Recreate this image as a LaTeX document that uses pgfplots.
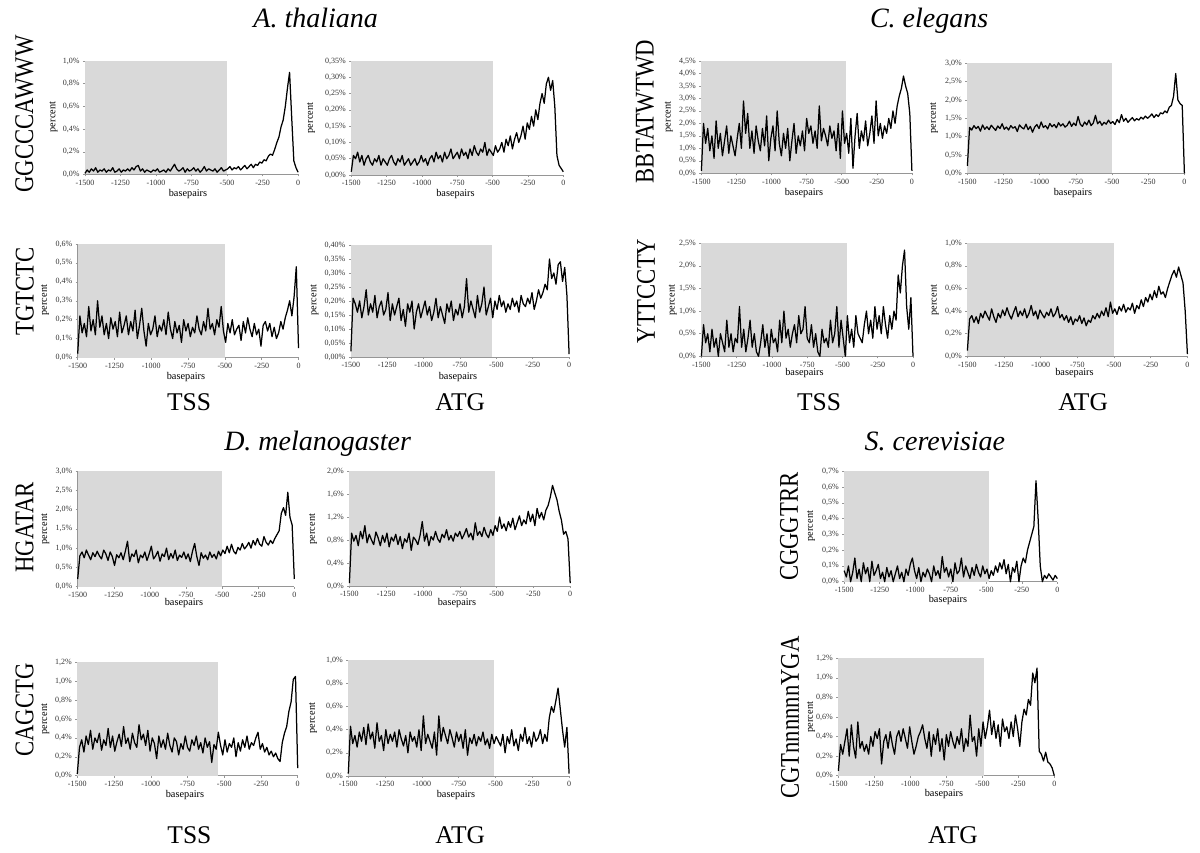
\documentclass[border=0pt]{standalone}
\usepackage{fontspec}
\setmainfont{Liberation Serif}
\usepackage{pgfplots}
\usepackage{pgfplotstable}
\pgfplotsset{compat=1.18}
\definecolor{shade}{RGB}{217,217,217}
\definecolor{axgray}{RGB}{150,150,150}

\pgfplotsset{
  panel/.style={
    scale only axis,
    anchor=south west,
    xmin=-1500, xmax=0,
    ymin=0,
    axis x line*=bottom,
    axis y line*=left,
    x axis line style={-},
    y axis line style={-},
    axis line style={axgray, line width=0.6pt},
    xtick={-1500,-1250,-1000,-750,-500,-250,0},
    xticklabels={-1500,-1250,-1000,-750,-500,-250,0},
    major tick length=2pt,
    tick style={axgray, line width=0.5pt},
    tick align=outside,
    ticklabel style={font=\fontsize{8}{9}\selectfont, text=black!80},
    clip=false,
  },
  sig/.style={black, line width=1.25pt, line join=round},
}
\newcommand\gbox[1]{\addplot[fill=shade, draw=none] coordinates {(-1500,#1) (-500,#1)} \closedcycle;}

% one table per panel, values every 15 bp from -1500 to 0
\pgfplotstableread[row sep=\\]{y\\
0.01\\0.04\\0.02\\0.05\\0.03\\0.06\\0.02\\0.04\\0.03\\0.05\\
0.02\\0.04\\0.03\\0.06\\0.02\\0.03\\0.05\\0.02\\0.04\\0.03\\
0.05\\0.03\\0.06\\0.04\\0.07\\0.08\\0.03\\0.05\\0.02\\0.04\\
0.03\\0.02\\0.04\\0.03\\0.05\\0.02\\0.03\\0.04\\0.02\\0.05\\
0.03\\0.06\\0.09\\0.05\\0.03\\0.04\\0.06\\0.02\\0.05\\0.03\\
0.04\\0.06\\0.03\\0.05\\0.02\\0.04\\0.07\\0.03\\0.05\\0.04\\
0.03\\0.05\\0.02\\0.04\\0.06\\0.03\\0.04\\0.05\\0.07\\0.04\\
0.06\\0.05\\0.07\\0.04\\0.06\\0.08\\0.05\\0.07\\0.09\\0.06\\
0.09\\0.08\\0.11\\0.10\\0.13\\0.12\\0.16\\0.18\\0.17\\0.22\\
0.28\\0.33\\0.42\\0.48\\0.60\\0.76\\0.90\\0.50\\0.12\\0.06\\0.02\\
}\dA
\pgfplotstableread[row sep=\\]{y\\
0.01\\0.06\\0.05\\0.07\\0.04\\0.06\\0.03\\0.05\\0.06\\0.04\\
0.03\\0.05\\0.04\\0.06\\0.03\\0.05\\0.04\\0.03\\0.05\\0.06\\
0.04\\0.03\\0.05\\0.04\\0.06\\0.03\\0.04\\0.05\\0.03\\0.04\\
0.05\\0.03\\0.04\\0.06\\0.04\\0.05\\0.03\\0.05\\0.06\\0.04\\
0.07\\0.05\\0.06\\0.04\\0.07\\0.05\\0.06\\0.08\\0.05\\0.06\\
0.07\\0.05\\0.08\\0.06\\0.07\\0.05\\0.08\\0.06\\0.09\\0.07\\
0.06\\0.08\\0.07\\0.10\\0.06\\0.08\\0.07\\0.06\\0.09\\0.07\\
0.08\\0.10\\0.07\\0.11\\0.09\\0.12\\0.08\\0.11\\0.13\\0.10\\
0.12\\0.15\\0.11\\0.16\\0.14\\0.18\\0.15\\0.20\\0.17\\0.22\\
0.25\\0.22\\0.28\\0.30\\0.26\\0.29\\0.21\\0.06\\0.03\\0.02\\0.01\\
}\dB
\pgfplotstableread[row sep=\\]{y\\
0.02\\0.22\\0.13\\0.18\\0.11\\0.27\\0.14\\0.20\\0.12\\0.30\\
0.16\\0.22\\0.12\\0.18\\0.10\\0.21\\0.15\\0.19\\0.11\\0.24\\
0.13\\0.17\\0.22\\0.12\\0.19\\0.14\\0.25\\0.10\\0.17\\0.26\\
0.14\\0.06\\0.18\\0.12\\0.15\\0.22\\0.11\\0.17\\0.14\\0.20\\
0.12\\0.24\\0.15\\0.10\\0.19\\0.13\\0.17\\0.08\\0.20\\0.14\\
0.18\\0.11\\0.16\\0.13\\0.22\\0.15\\0.12\\0.19\\0.14\\0.26\\
0.15\\0.18\\0.12\\0.20\\0.16\\0.27\\0.14\\0.08\\0.18\\0.13\\
0.20\\0.12\\0.15\\0.17\\0.09\\0.19\\0.13\\0.21\\0.15\\0.11\\
0.18\\0.12\\0.15\\0.06\\0.17\\0.19\\0.14\\0.18\\0.11\\0.16\\
0.10\\0.13\\0.19\\0.15\\0.21\\0.25\\0.30\\0.22\\0.32\\0.48\\0.05\\
}\dC
\pgfplotstableread[row sep=\\]{y\\
0.02\\0.21\\0.19\\0.16\\0.20\\0.14\\0.18\\0.24\\0.15\\0.19\\
0.16\\0.22\\0.14\\0.18\\0.20\\0.15\\0.17\\0.23\\0.13\\0.19\\
0.15\\0.18\\0.21\\0.13\\0.17\\0.11\\0.19\\0.16\\0.20\\0.10\\
0.16\\0.19\\0.14\\0.17\\0.20\\0.15\\0.18\\0.13\\0.16\\0.21\\
0.14\\0.18\\0.15\\0.12\\0.19\\0.16\\0.20\\0.13\\0.17\\0.15\\
0.19\\0.14\\0.18\\0.28\\0.16\\0.20\\0.17\\0.14\\0.22\\0.16\\
0.19\\0.25\\0.15\\0.18\\0.21\\0.14\\0.20\\0.17\\0.22\\0.18\\
0.20\\0.16\\0.19\\0.17\\0.21\\0.18\\0.20\\0.16\\0.22\\0.19\\
0.18\\0.21\\0.19\\0.23\\0.17\\0.20\\0.24\\0.21\\0.23\\0.26\\
0.24\\0.35\\0.28\\0.30\\0.26\\0.33\\0.34\\0.27\\0.32\\0.22\\0.01\\
}\dD
\pgfplotstableread[row sep=\\]{y\\
0.1\\2.0\\1.2\\1.8\\0.9\\1.5\\0.6\\2.1\\1.0\\1.6\\
0.7\\1.3\\1.9\\0.8\\1.5\\1.1\\0.7\\1.4\\2.0\\1.0\\
2.9\\1.6\\2.4\\1.0\\1.7\\0.8\\1.9\\1.3\\0.9\\1.8\\
1.1\\2.3\\0.5\\1.4\\1.9\\0.9\\2.5\\1.2\\0.7\\1.6\\
1.0\\1.8\\0.5\\1.3\\2.0\\0.8\\1.5\\1.1\\1.7\\0.9\\
2.2\\1.6\\1.9\\1.2\\1.7\\1.0\\2.7\\1.3\\1.8\\1.5\\
1.1\\1.9\\1.4\\1.7\\0.9\\2.0\\0.6\\2.5\\1.2\\1.6\\
0.8\\2.2\\0.2\\1.5\\2.4\\1.0\\1.7\\1.3\\2.1\\1.1\\
1.6\\2.3\\1.2\\2.9\\1.5\\2.0\\1.4\\1.9\\1.6\\2.2\\
1.8\\2.5\\2.0\\2.7\\3.1\\3.4\\3.9\\3.5\\3.2\\2.4\\0.1\\
}\dE
\pgfplotstableread[row sep=\\]{y\\
0.20\\1.25\\1.18\\1.30\\1.22\\1.28\\1.15\\1.32\\1.20\\1.27\\
1.19\\1.31\\1.24\\1.17\\1.29\\1.22\\1.35\\1.20\\1.26\\1.18\\
1.30\\1.23\\1.27\\1.14\\1.32\\1.25\\1.21\\1.34\\1.19\\1.28\\
1.12\\1.26\\1.33\\1.22\\1.40\\1.25\\1.30\\1.21\\1.36\\1.27\\
1.33\\1.24\\1.38\\1.29\\1.35\\1.26\\1.31\\1.42\\1.28\\1.37\\
1.30\\1.55\\1.34\\1.28\\1.40\\1.32\\1.45\\1.30\\1.37\\1.58\\
1.35\\1.42\\1.31\\1.39\\1.34\\1.45\\1.36\\1.41\\1.33\\1.47\\
1.38\\1.60\\1.42\\1.50\\1.39\\1.46\\1.52\\1.43\\1.49\\1.45\\
1.53\\1.48\\1.56\\1.50\\1.55\\1.62\\1.52\\1.60\\1.55\\1.65\\
1.62\\1.70\\1.65\\1.80\\1.85\\2.10\\2.72\\2.00\\1.90\\1.85\\0.00\\
}\dF
\pgfplotstableread[row sep=\\]{y\\
0.0\\0.7\\0.3\\0.5\\0.1\\0.6\\0.2\\0.4\\0.0\\0.5\\
0.3\\0.1\\0.8\\0.2\\0.5\\0.1\\0.4\\0.3\\1.1\\0.2\\
0.6\\0.1\\0.4\\0.8\\0.2\\0.5\\0.1\\0.0\\0.3\\0.7\\
0.2\\0.5\\0.0\\0.6\\0.3\\0.4\\0.1\\0.8\\0.3\\1.0\\
0.4\\0.6\\0.2\\0.5\\0.7\\0.3\\0.9\\0.5\\0.6\\1.1\\
0.4\\0.3\\0.7\\0.2\\0.5\\0.1\\0.0\\0.6\\0.3\\0.4\\
0.2\\0.8\\0.3\\0.5\\1.1\\0.2\\0.8\\0.4\\0.0\\0.9\\
0.3\\0.6\\0.2\\0.9\\0.5\\0.4\\0.3\\0.7\\1.0\\0.5\\
0.8\\0.4\\1.1\\0.6\\0.9\\0.5\\1.1\\0.7\\0.4\\0.9\\
0.6\\1.0\\0.8\\1.8\\1.4\\2.0\\2.35\\1.1\\0.6\\1.3\\0.0\\
}\dG
\pgfplotstableread[row sep=\\]{y\\
0.05\\0.33\\0.36\\0.30\\0.35\\0.29\\0.38\\0.34\\0.40\\0.36\\
0.32\\0.42\\0.35\\0.30\\0.38\\0.34\\0.41\\0.36\\0.43\\0.37\\
0.33\\0.39\\0.44\\0.35\\0.40\\0.36\\0.42\\0.34\\0.38\\0.45\\
0.36\\0.40\\0.33\\0.41\\0.37\\0.34\\0.39\\0.36\\0.42\\0.35\\
0.38\\0.44\\0.34\\0.37\\0.32\\0.36\\0.30\\0.35\\0.28\\0.33\\
0.31\\0.36\\0.29\\0.34\\0.27\\0.32\\0.30\\0.36\\0.33\\0.38\\
0.34\\0.40\\0.36\\0.43\\0.35\\0.48\\0.38\\0.42\\0.37\\0.44\\
0.40\\0.46\\0.39\\0.43\\0.41\\0.47\\0.38\\0.45\\0.42\\0.50\\
0.44\\0.52\\0.48\\0.55\\0.50\\0.58\\0.52\\0.62\\0.55\\0.57\\
0.52\\0.60\\0.66\\0.72\\0.76\\0.70\\0.79\\0.72\\0.65\\0.40\\0.02\\
}\dH
\pgfplotstableread[row sep=\\]{y\\
0.20\\0.80\\0.90\\0.75\\0.95\\0.82\\0.70\\0.88\\0.78\\0.92\\
0.80\\0.72\\0.95\\0.85\\0.68\\0.90\\0.78\\0.55\\0.83\\0.75\\
0.88\\0.70\\0.92\\1.18\\0.65\\0.85\\0.78\\0.95\\0.62\\0.82\\
0.75\\0.90\\0.68\\0.85\\1.05\\0.72\\0.80\\0.92\\0.66\\0.85\\
0.78\\1.00\\0.70\\0.86\\0.74\\0.95\\0.68\\0.82\\0.76\\0.90\\
0.72\\0.85\\0.65\\0.92\\1.12\\0.78\\0.55\\0.88\\0.74\\0.82\\
0.70\\0.90\\0.76\\0.84\\0.72\\0.92\\0.80\\0.95\\0.86\\1.05\\
0.88\\1.10\\0.92\\0.85\\1.02\\0.95\\1.12\\0.98\\1.05\\1.15\\
1.00\\1.20\\1.08\\1.25\\1.10\\1.05\\1.30\\1.15\\1.08\\1.20\\
1.12\\1.25\\1.35\\1.45\\1.90\\2.05\\1.85\\2.45\\1.80\\1.60\\0.20\\
}\dI
\pgfplotstableread[row sep=\\]{y\\
0.05\\0.92\\0.78\\0.88\\0.70\\0.95\\0.82\\1.05\\0.75\\0.90\\
0.80\\0.72\\0.94\\0.84\\0.70\\0.88\\0.76\\0.92\\0.68\\0.85\\
0.78\\0.90\\0.72\\0.86\\0.65\\0.82\\0.76\\0.92\\0.62\\0.85\\
0.80\\0.72\\0.88\\1.12\\0.78\\0.92\\0.70\\0.86\\0.80\\0.95\\
0.82\\0.76\\0.90\\0.84\\0.98\\0.80\\0.88\\0.78\\0.92\\0.86\\
0.95\\0.82\\0.90\\1.00\\0.85\\0.92\\0.80\\1.10\\0.88\\0.95\\
0.86\\1.02\\0.90\\0.84\\0.98\\0.88\\1.05\\0.95\\1.20\\1.00\\
1.08\\0.96\\1.12\\1.02\\1.18\\0.98\\1.10\\1.22\\1.05\\1.15\\
1.08\\1.30\\1.12\\1.25\\1.05\\1.35\\1.18\\1.28\\1.15\\1.32\\
1.40\\1.55\\1.75\\1.62\\1.50\\1.30\\1.15\\0.90\\0.95\\0.82\\0.05\\
}\dJ
\pgfplotstableread[row sep=\\]{y\\
0.02\\0.30\\0.38\\0.25\\0.42\\0.33\\0.48\\0.28\\0.40\\0.35\\
0.45\\0.27\\0.38\\0.32\\0.50\\0.30\\0.42\\0.26\\0.36\\0.44\\
0.31\\0.52\\0.34\\0.40\\0.28\\0.45\\0.35\\0.30\\0.54\\0.38\\
0.44\\0.32\\0.48\\0.26\\0.40\\0.34\\0.18\\0.42\\0.30\\0.38\\
0.28\\0.45\\0.32\\0.25\\0.40\\0.36\\0.22\\0.34\\0.28\\0.42\\
0.30\\0.26\\0.38\\0.32\\0.42\\0.28\\0.35\\0.24\\0.40\\0.30\\
0.36\\0.14\\0.33\\0.28\\0.46\\0.32\\0.22\\0.38\\0.25\\0.34\\
0.30\\0.40\\0.20\\0.35\\0.26\\0.38\\0.30\\0.42\\0.28\\0.35\\
0.32\\0.40\\0.46\\0.28\\0.34\\0.25\\0.30\\0.22\\0.26\\0.20\\
0.24\\0.18\\0.15\\0.35\\0.45\\0.52\\0.68\\0.78\\1.02\\1.05\\0.08\\
}\dK
\pgfplotstableread[row sep=\\]{y\\
0.02\\0.43\\0.28\\0.35\\0.25\\0.38\\0.30\\0.42\\0.27\\0.45\\
0.32\\0.38\\0.24\\0.46\\0.30\\0.35\\0.22\\0.40\\0.28\\0.36\\
0.30\\0.38\\0.25\\0.40\\0.32\\0.26\\0.35\\0.20\\0.38\\0.30\\
0.34\\0.25\\0.40\\0.22\\0.52\\0.28\\0.36\\0.30\\0.24\\0.38\\
0.18\\0.52\\0.30\\0.42\\0.35\\0.28\\0.40\\0.33\\0.25\\0.38\\
0.30\\0.36\\0.24\\0.40\\0.18\\0.33\\0.28\\0.36\\0.26\\0.34\\
0.30\\0.38\\0.27\\0.32\\0.24\\0.36\\0.28\\0.34\\0.30\\0.26\\
0.36\\0.20\\0.34\\0.28\\0.40\\0.26\\0.32\\0.22\\0.36\\0.30\\
0.42\\0.28\\0.34\\0.25\\0.38\\0.30\\0.33\\0.40\\0.28\\0.36\\
0.30\\0.50\\0.60\\0.55\\0.65\\0.76\\0.58\\0.40\\0.25\\0.42\\0.02\\
}\dL
\pgfplotstableread[row sep=\\]{y\\
0.07\\0.03\\0.10\\0.00\\0.06\\0.15\\0.02\\0.08\\0.00\\0.12\\
0.05\\0.09\\0.00\\0.13\\0.04\\0.07\\0.11\\0.02\\0.06\\0.00\\
0.09\\0.03\\0.07\\0.00\\0.05\\0.10\\0.02\\0.06\\0.00\\0.08\\
0.04\\0.11\\0.15\\0.07\\0.02\\0.09\\0.00\\0.06\\0.03\\0.08\\
0.05\\0.00\\0.10\\0.04\\0.07\\0.02\\0.16\\0.06\\0.09\\0.03\\
0.08\\0.00\\0.12\\0.05\\0.07\\0.15\\0.03\\0.10\\0.06\\0.02\\
0.09\\0.04\\0.11\\0.06\\0.03\\0.10\\0.05\\0.08\\0.02\\0.07\\
0.04\\0.10\\0.06\\0.12\\0.08\\0.14\\0.05\\0.11\\0.00\\0.09\\
0.06\\0.13\\0.00\\0.10\\0.15\\0.12\\0.20\\0.25\\0.30\\0.35\\
0.64\\0.40\\0.10\\0.00\\0.04\\0.02\\0.05\\0.03\\0.01\\0.04\\0.02\\
}\dM
\pgfplotstableread[row sep=\\]{y\\
0.05\\0.32\\0.22\\0.35\\0.48\\0.20\\0.52\\0.30\\0.18\\0.55\\
0.28\\0.35\\0.25\\0.32\\0.22\\0.40\\0.30\\0.45\\0.38\\0.48\\
0.12\\0.35\\0.42\\0.28\\0.45\\0.32\\0.22\\0.40\\0.46\\0.35\\
0.48\\0.38\\0.28\\0.50\\0.35\\0.22\\0.30\\0.40\\0.45\\0.52\\
0.38\\0.28\\0.45\\0.20\\0.42\\0.32\\0.48\\0.25\\0.38\\0.16\\
0.42\\0.30\\0.45\\0.35\\0.28\\0.40\\0.32\\0.48\\0.25\\0.38\\
0.30\\0.62\\0.35\\0.40\\0.20\\0.48\\0.30\\0.55\\0.38\\0.50\\
0.67\\0.42\\0.56\\0.38\\0.52\\0.30\\0.58\\0.45\\0.50\\0.38\\
0.55\\0.40\\0.62\\0.48\\0.30\\0.55\\0.68\\0.62\\0.78\\0.72\\
1.05\\0.95\\1.10\\0.25\\0.22\\0.15\\0.24\\0.14\\0.12\\0.08\\0.00\\
}\dN

\newcommand\sigline[1]{\addplot[sig] table[x expr={-1500+15*\coordindex}, y=y]{#1};}
\newcommand\motif[1]{\scalebox{0.84}[1]{\fontsize{27}{30}\selectfont #1}}
\newcommand\bigf{\fontsize{25.5}{28}\selectfont}
\newcommand\labf{\fontsize{10.3}{12}\selectfont}
\newcommand\ttlf{\fontsize{28}{32}\selectfont\itshape}

\begin{document}
\begin{tikzpicture}
\useasboundingbox (0pt,0pt) rectangle (1200pt,-853pt);

% ---------- A. thaliana ----------
\node[font=\ttlf, anchor=base] at (315.7pt,-28pt) {A. thaliana};
\begin{axis}[panel, at={(85pt,-174.5pt)}, width=213.1pt, height=113.5pt, ymax=1.0,
  ytick={0,0.2,0.4,0.6,0.8,1.0}, yticklabels={{0,0\%},{0,2\%},{0,4\%},{0,6\%},{0,8\%},{1,0\%}}]
  \gbox{1.0}
  \sigline{\dA}
\end{axis}
\begin{axis}[panel, at={(351.3pt,-175pt)}, width=212pt, height=114pt, ymax=0.35,
  ytick={0,0.05,0.1,0.15,0.2,0.25,0.3,0.35},
  yticklabels={{0,00\%},{0,05\%},{0,10\%},{0,15\%},{0,20\%},{0,25\%},{0,30\%},{0,35\%}}]
  \gbox{0.35}
  \sigline{\dB}
\end{axis}
\begin{axis}[panel, at={(77.7pt,-357.5pt)}, width=220.8pt, height=113.5pt, ymax=0.6,
  ytick={0,0.1,0.2,0.3,0.4,0.5,0.6},
  yticklabels={{0,0\%},{0,1\%},{0,2\%},{0,3\%},{0,4\%},{0,5\%},{0,6\%}}]
  \gbox{0.6}
  \sigline{\dC}
\end{axis}
\begin{axis}[panel, at={(350.9pt,-357pt)}, width=218.2pt, height=112pt, ymax=0.40,
  ytick={0,0.05,0.1,0.15,0.2,0.25,0.3,0.35,0.4},
  yticklabels={{0,00\%},{0,05\%},{0,10\%},{0,15\%},{0,20\%},{0,25\%},{0,30\%},{0,35\%},{0,40\%}}]
  \addplot[fill=shade, draw=none] coordinates {(-1500,0.4) (-530,0.4)} \closedcycle;
  \sigline{\dD}
\end{axis}
\node[rotate=90] at (24.5pt,-114pt) {\motif{GGCCCAWWW}};
\node[rotate=90] at (24.7pt,-291.7pt) {\motif{TGTCTC}};
\node[rotate=90, font=\labf] at (53.5pt,-117pt) {percent};
\node[rotate=90, font=\labf] at (311pt,-118pt) {percent};
\node[rotate=90, font=\labf] at (45pt,-300pt) {percent};
\node[rotate=90, font=\labf] at (314.6pt,-300pt) {percent};
\node[font=\labf] at (188pt,-194.3pt) {basepairs};
\node[font=\labf] at (455.5pt,-194.3pt) {basepairs};
\node[font=\labf] at (186pt,-376.7pt) {basepairs};
\node[font=\labf] at (458pt,-376.7pt) {basepairs};
\node[font=\bigf, anchor=base] at (189pt,-410pt) {TSS};
\node[font=\bigf, anchor=base] at (460.2pt,-410pt) {ATG};

% ---------- C. elegans ----------
\node[font=\ttlf, anchor=base] at (929.1pt,-28pt) {C. elegans};
\begin{axis}[panel, at={(701.4pt,-173.3pt)}, width=210.5pt, height=112.3pt, ymax=4.5,
  ytick={0,0.5,1,1.5,2,2.5,3,3.5,4,4.5},
  yticklabels={{0,0\%},{0,5\%},{1,0\%},{1,5\%},{2,0\%},{2,5\%},{3,0\%},{3,5\%},{4,0\%},{4,5\%}}]
  \addplot[fill=shade, draw=none] coordinates {(-1500,4.5) (-470,4.5)} \closedcycle;
  \sigline{\dE}
\end{axis}
\begin{axis}[panel, at={(967.4pt,-173.3pt)}, width=217pt, height=110pt, ymax=3.0,
  ytick={0,0.5,1,1.5,2,2.5,3},
  yticklabels={{0,0\%},{0,5\%},{1,0\%},{1,5\%},{2,0\%},{2,5\%},{3,0\%}}]
  \gbox{3.0}
  \sigline{\dF}
\end{axis}
\begin{axis}[panel, at={(701.4pt,-356.3pt)}, width=211.6pt, height=113pt, ymax=2.5,
  ytick={0,0.5,1,1.5,2,2.5},
  yticklabels={{0,0\%},{0,5\%},{1,0\%},{1,5\%},{2,0\%},{2,5\%}}]
  \addplot[fill=shade, draw=none] coordinates {(-1500,2.5) (-470,2.5)} \closedcycle;
  \sigline{\dG}
\end{axis}
\begin{axis}[panel, at={(967.4pt,-356.3pt)}, width=220pt, height=113pt, ymax=1.0,
  ytick={0,0.2,0.4,0.6,0.8,1.0}, yticklabels={{0,0\%},{0,2\%},{0,4\%},{0,6\%},{0,8\%},{1,0\%}}]
  \gbox{1.0}
  \sigline{\dH}
\end{axis}
\node[rotate=90] at (645pt,-111.7pt) {\motif{BBTATWTWD}};
\node[rotate=90] at (646pt,-291pt) {\motif{YTTCCTY}};
\node[rotate=90, font=\labf] at (668.9pt,-117pt) {percent};
\node[rotate=90, font=\labf] at (934.1pt,-118pt) {percent};
\node[rotate=90, font=\labf] at (672.7pt,-300pt) {percent};
\node[rotate=90, font=\labf] at (934.9pt,-300pt) {percent};
\node[font=\labf] at (804pt,-192.7pt) {basepairs};
\node[font=\labf] at (1073pt,-192.7pt) {basepairs};
\node[font=\labf] at (804.5pt,-373.3pt) {basepairs};
\node[font=\labf] at (1074.5pt,-373.3pt) {basepairs};
\node[font=\bigf, anchor=base] at (819.1pt,-410pt) {TSS};
\node[font=\bigf, anchor=base] at (1083.1pt,-410pt) {ATG};

% ---------- D. melanogaster ----------
\node[font=\ttlf, anchor=base] at (317.6pt,-450pt) {D. melanogaster};
\begin{axis}[panel, at={(77.7pt,-586.7pt)}, width=216.6pt, height=115.7pt, ymax=3.0,
  ytick={0,0.5,1,1.5,2,2.5,3},
  yticklabels={{0,0\%},{0,5\%},{1,0\%},{1,5\%},{2,0\%},{2,5\%},{3,0\%}}]
  \gbox{3.0}
  \sigline{\dI}
\end{axis}
\begin{axis}[panel, at={(349.4pt,-586pt)}, width=220.8pt, height=115pt, ymax=2.0,
  ytick={0,0.4,0.8,1.2,1.6,2.0},
  yticklabels={{0,0\%},{0,4\%},{0,8\%},{1,2\%},{1,6\%},{2,0\%}}]
  \addplot[fill=shade, draw=none] coordinates {(-1500,2.0) (-510,2.0)} \closedcycle;
  \sigline{\dJ}
\end{axis}
\begin{axis}[panel, at={(77.3pt,-775.7pt)}, width=220.4pt, height=113.4pt, ymax=1.2,
  ytick={0,0.2,0.4,0.6,0.8,1.0,1.2},
  yticklabels={{0,0\%},{0,2\%},{0,4\%},{0,6\%},{0,8\%},{1,0\%},{1,2\%}}]
  \addplot[fill=shade, draw=none] coordinates {(-1500,1.2) (-540,1.2)} \closedcycle;
  \sigline{\dK}
\end{axis}
\begin{axis}[panel, at={(348.3pt,-776pt)}, width=220.8pt, height=115.7pt, ymax=1.0,
  ytick={0,0.2,0.4,0.6,0.8,1.0}, yticklabels={{0,0\%},{0,2\%},{0,4\%},{0,6\%},{0,8\%},{1,0\%}}]
  \addplot[fill=shade, draw=none] coordinates {(-1500,1.0) (-510,1.0)} \closedcycle;
  \sigline{\dL}
\end{axis}
\node[rotate=90] at (24.5pt,-527.5pt) {\motif{HGATAR}};
\node[rotate=90] at (24.5pt,-710pt) {\motif{CAGCTG}};
\node[rotate=90, font=\labf] at (45.2pt,-529pt) {percent};
\node[rotate=90, font=\labf] at (313pt,-529pt) {percent};
\node[rotate=90, font=\labf] at (45.2pt,-719pt) {percent};
\node[rotate=90, font=\labf] at (313pt,-718pt) {percent};
\node[font=\labf] at (184pt,-602.7pt) {basepairs};
\node[font=\labf] at (457pt,-602.7pt) {basepairs};
\node[font=\labf] at (185pt,-795pt) {basepairs};
\node[font=\labf] at (456pt,-795pt) {basepairs};
\node[font=\bigf, anchor=base] at (189.4pt,-843.3pt) {TSS};
\node[font=\bigf, anchor=base] at (460.2pt,-843.3pt) {ATG};

% ---------- S. cerevisiae ----------
\node[font=\ttlf, anchor=base] at (934.9pt,-450.7pt) {S. cerevisiae};
\begin{axis}[panel, at={(844.2pt,-581.7pt)}, width=213.1pt, height=110.4pt, ymax=0.7,
  ytick={0,0.1,0.2,0.3,0.4,0.5,0.6,0.7},
  yticklabels={{0,0\%},{0,1\%},{0,2\%},{0,3\%},{0,4\%},{0,5\%},{0,6\%},{0,7\%}}]
  \addplot[fill=shade, draw=none] coordinates {(-1500,0.7) (-480,0.7)} \closedcycle;
  \sigline{\dM}
\end{axis}
\begin{axis}[panel, at={(838.4pt,-775.7pt)}, width=215.9pt, height=117.4pt, ymax=1.2,
  ytick={0,0.2,0.4,0.6,0.8,1.0,1.2},
  yticklabels={{0,0\%},{0,2\%},{0,4\%},{0,6\%},{0,8\%},{1,0\%},{1,2\%}}]
  \addplot[fill=shade, draw=none] coordinates {(-1500,1.2) (-490,1.2)} \closedcycle;
  \sigline{\dN}
\end{axis}
\node[rotate=90] at (789pt,-526.7pt) {\motif{CGGGTRR}};
\node[rotate=90] at (790pt,-717.7pt) {\motif{CGTnnnnnnYGA}};
\node[rotate=90, font=\labf] at (811pt,-526pt) {percent};
\node[rotate=90, font=\labf] at (811pt,-717pt) {percent};
\node[font=\labf] at (948pt,-600pt) {basepairs};
\node[font=\labf] at (944pt,-794pt) {basepairs};
\node[font=\bigf, anchor=base] at (953pt,-843.3pt) {ATG};
\end{tikzpicture}
\end{document}
